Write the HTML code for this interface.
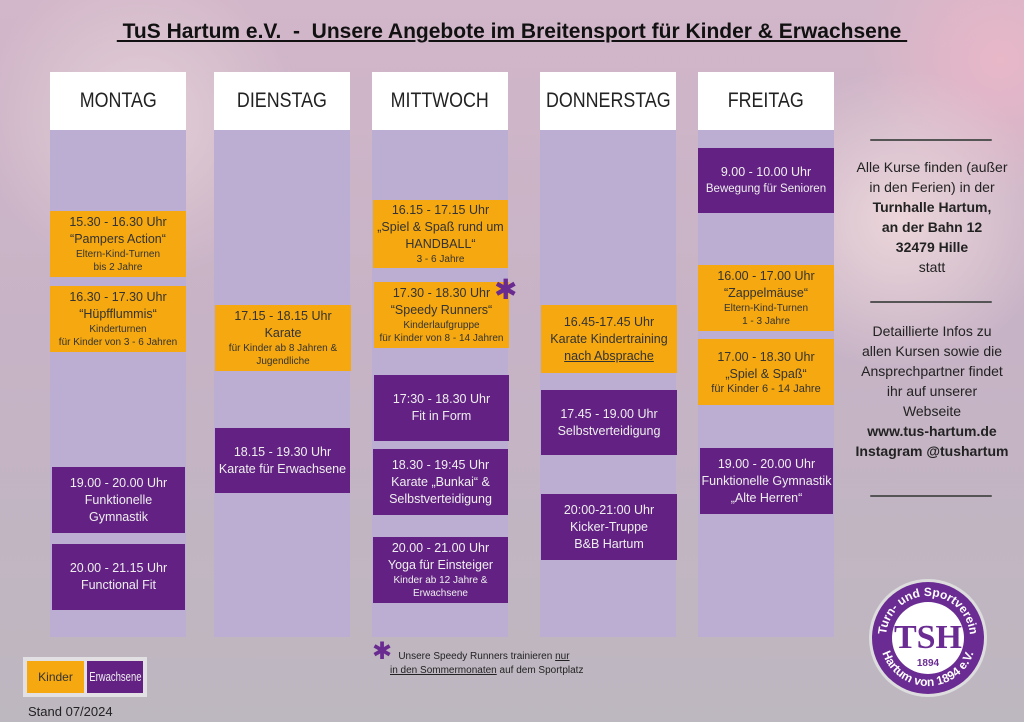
<!DOCTYPE html>
<html><head><meta charset="utf-8"><style>
*{margin:0;padding:0;box-sizing:border-box}
body{width:1024px;height:722px;overflow:hidden;position:relative;font-family:"Liberation Sans",sans-serif;
background:radial-gradient(circle at 140px 120px,#e3cfd6 0,rgba(227,207,214,0) 160px),radial-gradient(circle at 900px 220px,#ecd6da 0,rgba(236,214,218,0) 150px),radial-gradient(circle at 1000px 60px,#e8b7c8 0,rgba(232,183,200,0) 140px),linear-gradient(180deg,#d2b6c9 0%,#c7b3c6 45%,#bdb7bf 100%);}
.t{position:absolute;left:0;width:1024px;top:20px;text-align:center;font-weight:bold;font-size:21px;color:#111;}
.t span{text-decoration:underline;white-space:pre}
.col{position:absolute;top:72px;height:565px;background:#bcaed3;}
.hd{position:absolute;top:72px;height:58px;background:#fff;font-size:21px;color:#222;display:flex;align-items:center;justify-content:center;}
.hd span{display:inline-block;transform:scaleX(.85)}
.b{position:absolute;display:flex;flex-direction:column;align-items:center;justify-content:center;text-align:center;font-size:12.5px;line-height:17px;}
.o{background:#f5a80f;color:#333}
.p{background:#632283;color:#eee}
.s{font-size:10px;line-height:13px}
.r{position:absolute;left:842px;width:180px;text-align:center;font-size:14px;line-height:20px;color:#222}
.ln{position:absolute;left:870px;width:122px;height:2px;background:#555;border-radius:1px}
</style></head><body>
<div class="t"><span> TuS Hartum e.V.  -  Unsere Angebote im Breitensport für Kinder &amp; Erwachsene </span></div>

<div class="col" style="left:50px;width:136px"></div>
<div class="col" style="left:214px;width:136px"></div>
<div class="col" style="left:372px;width:136px"></div>
<div class="col" style="left:540px;width:136px"></div>
<div class="col" style="left:698px;width:136px"></div>
<div class="hd" style="left:50px;width:136px"><span>MONTAG</span></div>
<div class="hd" style="left:214px;width:136px"><span>DIENSTAG</span></div>
<div class="hd" style="left:372px;width:136px"><span>MITTWOCH</span></div>
<div class="hd" style="left:540px;width:136px"><span>DONNERSTAG</span></div>
<div class="hd" style="left:698px;width:136px"><span>FREITAG</span></div>

<div class="b o" style="left:50px;width:136px;top:211px;height:66px">15.30 - 16.30 Uhr<br>“Pampers Action“<span class="s">Eltern-Kind-Turnen<br>bis 2 Jahre</span></div>
<div class="b o" style="left:50px;width:136px;top:286px;height:66px">16.30 - 17.30 Uhr<br>“Hüpfflummis“<span class="s">Kinderturnen<br>für Kinder von 3 - 6 Jahren</span></div>
<div class="b p" style="left:52px;width:133px;top:467px;height:66px">19.00 - 20.00 Uhr<br>Funktionelle<br>Gymnastik</div>
<div class="b p" style="left:52px;width:133px;top:544px;height:66px">20.00 - 21.15 Uhr<br>Functional Fit</div>

<div class="b o" style="left:215px;width:136px;top:305px;height:66px">17.15 - 18.15 Uhr<br>Karate<span class="s">für Kinder ab 8 Jahren &amp;<br>Jugendliche</span></div>
<div class="b p" style="left:215px;width:135px;top:428px;height:65px">18.15 - 19.30 Uhr<br>Karate für Erwachsene</div>

<div class="b o" style="left:373px;width:135px;top:200px;height:68px">16.15 - 17.15 Uhr<br>„Spiel &amp; Spaß rund um<br>HANDBALL“<span class="s">3 - 6 Jahre</span></div>
<div class="b o" style="left:374px;width:135px;top:282px;height:66px">17.30 - 18.30 Uhr<br>“Speedy Runners“<span class="s">Kinderlaufgruppe<br>für Kinder von 8 - 14 Jahren</span></div>
<div style="position:absolute;left:494px;top:276px;color:#6a2b90;font-size:28px;line-height:28px">✱</div>
<div class="b p" style="left:374px;width:135px;top:375px;height:66px">17:30 - 18.30 Uhr<br>Fit in Form</div>
<div class="b p" style="left:373px;width:135px;top:449px;height:66px">18.30 - 19:45 Uhr<br>Karate „Bunkai“ &amp;<br>Selbstverteidigung</div>
<div class="b p" style="left:373px;width:135px;top:537px;height:66px">20.00 - 21.00 Uhr<br>Yoga für Einsteiger<span class="s">Kinder ab 12 Jahre &amp;<br>Erwachsene</span></div>

<div class="b o" style="left:541px;width:136px;top:305px;height:68px">16.45-17.45 Uhr<br>Karate Kindertraining<br><u>nach Absprache</u></div>
<div class="b p" style="left:541px;width:136px;top:390px;height:65px">17.45 - 19.00 Uhr<br>Selbstverteidigung</div>
<div class="b p" style="left:541px;width:136px;top:494px;height:66px">20:00-21:00 Uhr<br>Kicker-Truppe<br>B&amp;B Hartum</div>

<div class="b p" style="left:698px;width:136px;top:148px;height:65px">9.00 - 10.00 Uhr<br><span style="font-size:11.5px">Bewegung für Senioren</span></div>
<div class="b o" style="left:698px;width:136px;top:265px;height:66px">16.00 - 17.00 Uhr<br>“Zappelmäuse“<span class="s">Eltern-Kind-Turnen<br>1 - 3 Jahre</span></div>
<div class="b o" style="left:698px;width:136px;top:339px;height:66px">17.00 - 18.30 Uhr<br>„Spiel &amp; Spaß“<span class="s" style="font-size:11px">für Kinder 6 - 14 Jahre</span></div>
<div class="b p" style="left:700px;width:133px;top:448px;height:66px">19.00 - 20.00 Uhr<br>Funktionelle Gymnastik<br>„Alte Herren“</div>

<div class="ln" style="top:139px"></div>
<div class="r" style="top:157px">Alle Kurse finden (außer<br>in den Ferien) in der<br><b>Turnhalle Hartum,<br>an der Bahn 12<br>32479 Hille</b><br>statt</div>
<div class="ln" style="top:301px"></div>
<div class="r" style="top:321px">Detaillierte Infos zu<br>allen Kursen sowie die<br>Ansprechpartner findet<br>ihr auf unserer<br>Webseite<br><b>www.tus-hartum.de<br>Instagram @tushartum</b></div>
<div class="ln" style="top:495px"></div>

<svg style="position:absolute;left:864px;top:578px" width="128" height="120" viewBox="0 0 128 120">
<defs><path id="ta" d="M22,60 A42,42 0 0,1 106,60"/><path id="bt" d="M16,60 A48,48 0 0,0 112,60"/></defs>
<circle cx="64" cy="60" r="59" fill="#ddd"/>
<circle cx="64" cy="60" r="56" fill="#6a2b92"/>
<circle cx="64" cy="60" r="36" fill="#fff"/>
<text font-family="Liberation Sans" font-weight="bold" font-size="12" fill="#fff"><textPath href="#ta" startOffset="50%" text-anchor="middle">Turn- und Sportverein</textPath></text>
<text font-family="Liberation Sans" font-weight="bold" font-size="12" fill="#fff"><textPath href="#bt" startOffset="50%" text-anchor="middle">Hartum von 1894 e.V.</textPath></text>
<text x="64" y="70" text-anchor="middle" font-family="Liberation Serif" font-weight="bold" font-size="34" fill="#6a2b92">TSH</text>
<text x="64" y="88" text-anchor="middle" font-family="Liberation Sans" font-weight="bold" font-size="10" fill="#6a2b92">1894</text>
</svg>

<div style="position:absolute;left:372px;top:640px;color:#6a2b90;font-size:24px;line-height:24px">✱</div>
<div style="position:absolute;left:390px;top:650px;width:230px;font-size:10px;line-height:14px;color:#222">&nbsp;&nbsp;&nbsp;Unsere Speedy Runners trainieren <u>nur</u><br><u>in den Sommermonaten</u> auf dem Sportplatz</div>

<div style="position:absolute;left:23px;top:657px;width:124px;height:40px;background:#e3e0e4"></div>
<div style="position:absolute;left:27px;top:661px;width:57px;height:32px;background:#f5a80f;color:#333;font-size:12px;display:flex;align-items:center;justify-content:center">Kinder</div>
<div style="position:absolute;left:87px;top:661px;width:56px;height:32px;background:#632283;color:#eee;font-size:12.5px;display:flex;align-items:center;justify-content:center;overflow:visible"><span style="display:inline-block;transform:scaleX(.76);white-space:nowrap">Erwachsene</span></div>
<div style="position:absolute;left:28px;top:704px;font-size:13px;color:#222">Stand 07/2024</div>
</body></html>
